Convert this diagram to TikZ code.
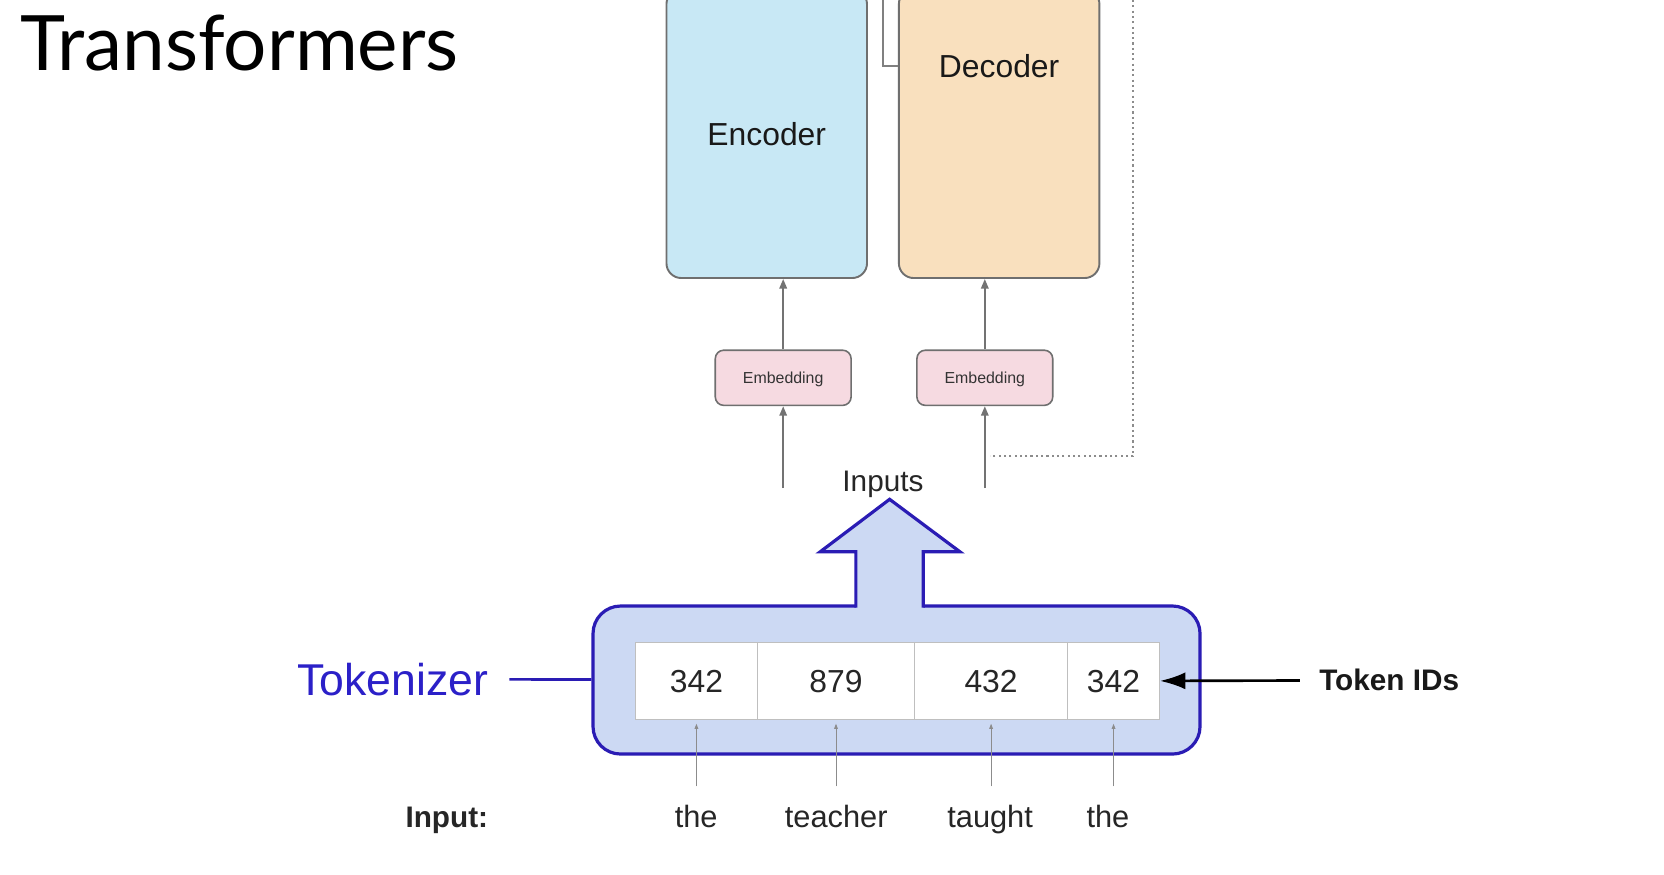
\documentclass[tikz,border=0pt]{standalone}
\usepackage{fontspec}
\setmainfont{Liberation Sans}
\newfontfamily\latofont{Lato}
\usetikzlibrary{positioning,arrows.meta}
\definecolor{encblue}{HTML}{C8E8F5}
\definecolor{decpeach}{HTML}{F9E0BE}
\definecolor{embpink}{HTML}{F6DAE1}
\definecolor{tokfill}{HTML}{CCD9F3}
\definecolor{tokline}{HTML}{2A1CB4}
\definecolor{toktext}{HTML}{2B20C8}
\definecolor{boxline}{HTML}{6F6F6F}
\newcommand{\pxfont}[1]{\fontsize{#1}{#1}\selectfont}

\begin{document}
\begin{tikzpicture}[x=1pt,y=-1pt,
    block/.style={draw=boxline,line width=1.8pt,rounded corners=14pt,minimum width=189pt,minimum height=272pt,inner sep=0pt,text=black!90,font=\pxfont{30}},
    embbox/.style={draw=boxline,fill=embpink,line width=1.5pt,rounded corners=8pt,minimum width=128pt,minimum height=52pt,inner sep=0pt,text depth=0pt,text=black!80,font=\pxfont{15}},
    idcell/.style={draw=black!25,fill=white,line width=1pt,minimum height=72.3pt,inner sep=0pt,outer sep=0pt,text=black!85,font=\pxfont{30}},
    word/.style={text=black!85,font=\pxfont{29}},
    flow/.style={black!55,line width=1.8pt,-{Triangle[length=9pt,width=7pt]}},
    feed/.style={black!45,line width=0.9pt,shorten >=4pt,-{Triangle[length=5pt,width=3.5pt]}}
  ]
\useasboundingbox (0,0) rectangle (1568,823.6);
\fill[white] (0,0) rectangle (1568,823.6);

\node[anchor=base west,font=\latofont\pxfont{72}] (title) at (16,66) {Transformers};

% encoder / decoder
\node[block,fill=encblue] (enc) at (722.5,126) {Encoder};
\node[block,fill=decpeach] (dec) at (941.5,126) {};
\node[text=black!90,font=\pxfont{30}] (declabel) at (941.5,62) {Decoder};
\node[embbox] (emb1) at (738,356) {Embedding};
\node[embbox] (emb2) at (928,356) {Embedding};
\coordinate (inenc) at (738,460);
\coordinate (indec) at (928,460);
\draw[flow] (emb1) -- (emb1 |- enc.south);
\draw[flow] (emb2) -- (emb2 |- dec.south);
\draw[flow] (inenc) -- (emb1);
\draw[flow] (indec) -- (emb2);
\coordinate (brtop) at (832,-10);
\draw[black!50,line width=1.5pt] (brtop) |- (dec.west |- declabel);
\coordinate (looptop) at (1068,-10);
\coordinate (loopend) at (933,430);
\draw[black!45,line width=2pt,dash pattern=on 2pt off 3pt] (looptop) |- (loopend);
\node[word,font=\pxfont{28},anchor=base] (inputs) at (832,463) {Inputs};

% tokenizer
\node[draw=tokline,fill=tokfill,line width=3pt,rounded corners=26pt,minimum width=572pt,minimum height=139.5pt,inner sep=0pt] (tok) at (844.8,640.8) {};
\fill[tokfill] (806.5,574) -- (806.5,520) -- (772.8,520) -- (838.3,470.5) -- (904.6,520) -- (870,520) -- (870,574) -- cycle;
\draw[tokline,line width=3pt,line join=miter] (806.5,572.5) -- (806.5,520) -- (772.8,520) -- (838.3,470.5) -- (904.6,520) -- (870,520) -- (870,572.5);
\node[idcell,minimum width=114.3pt,anchor=north west] (id1) at (599.1,605.6) {342};
\node[idcell,minimum width=148.7pt,right=0pt of id1] (id2) {879};
\node[idcell,minimum width=143.6pt,right=0pt of id2] (id3) {432};
\node[idcell,minimum width=87.2pt,right=0pt of id3] (id4) {342};
\node[font=\pxfont{42},text=toktext,inner xsep=20pt] (toklabel) at (370,640) {Tokenizer};
\draw[tokline,line width=2.5pt] (toklabel) -- (tok);
\node[font=\bfseries\pxfont{28},text=black!90,inner xsep=18pt] (idlabel) at (1309,641) {Token IDs};
\draw[black,line width=2.5pt,-{Latex[length=24pt,width=16pt]}] (idlabel) -- (id4);

% input words
\node[word,anchor=base] (w1) at (656,780) {the};
\node[word,anchor=base] (w2) at (788,780) {teacher};
\node[word,anchor=base] (w3) at (933,780) {taught};
\node[word,anchor=base] (w4) at (1044,780) {the};
\node[font=\bfseries\pxfont{28},text=black!85,anchor=base] (inlabel) at (421,780) {Input:};
\coordinate (wtop) at (0,741);
\draw[feed] (id1.south |- wtop) -- (id1.south);
\draw[feed] (id2.south |- wtop) -- (id2.south);
\draw[feed] (id3.south |- wtop) -- (id3.south);
\draw[feed] (id4.south |- wtop) -- (id4.south);
\end{tikzpicture}
\end{document}
